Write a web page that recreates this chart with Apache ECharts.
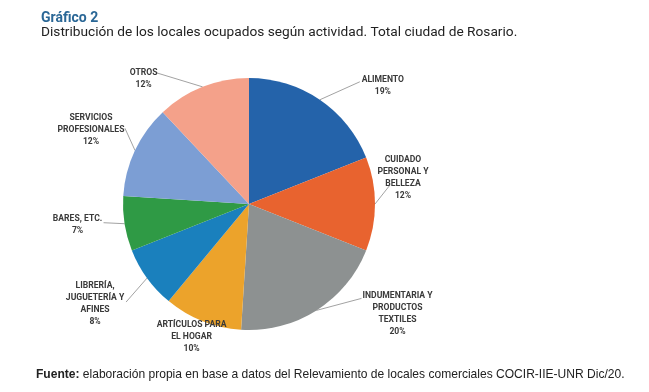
<!DOCTYPE html>
<html>
<head>
<meta charset="utf-8">
<script src="https://cdn.jsdelivr.net/npm/echarts@6/dist/echarts.min.js"></script>
<style>
html,body{margin:0;padding:0;background:#fff;}
#chart{width:649px;height:392px;}
</style>
</head>
<body>
<div id="chart"></div>
<script>
// ---- data ----
const categories = [
  'ALIMENTO',
  'CUIDADO\nPERSONAL Y\nBELLEZA',
  'INDUMENTARIA Y\nPRODUCTOS\nTEXTILES',
  'ARTÍCULOS PARA\nEL HOGAR',
  'LIBRERÍA,\nJUGUETERÍA Y\nAFINES',
  'BARES, ETC.',
  'SERVICIOS\nPROFESIONALES',
  'OTROS'
];
const values = [19, 12, 20, 10, 8, 7, 12, 12];

// ---- styles ----
const colors = ['#2463aa', '#e8632f', '#8d9191', '#eca32b', '#1a80bd', '#2f9a45', '#7c9ed4', '#f4a18a'];
// label centre offset from the slice's outer mid point
const labelOffset = [[63,-14],[28,-26],[81,3],[-11,16],[-52,26],[-47,1],[-44,-21],[-59,-8]];
// label line end offset from the slice's outer mid point (null = no line)
const lineOffset = [[40,-18],[15,-19],[45,-12],null,[-21,24],[-21,-1],[-10,-22],[-46,-14]];
const labelFont = "Roboto, sans-serif";

const chart = echarts.init(document.getElementById('chart'), null, {renderer: 'canvas'});
chart.setOption({
  animation: false,
  title: [
    {text: 'Gráfico 2', left: 41, top: 11, padding: 0,
     textStyle: {fontFamily: 'Roboto', fontSize: 14, fontWeight: 'bold', color: '#2a6796'}},
    {text: 'Distribución de los locales ocupados según actividad. Total ciudad de Rosario.', left: 41, top: 26, padding: 0,
     textStyle: {fontFamily: 'Roboto', fontSize: 13.7, fontWeight: 'normal', color: '#222'}},
    {text: '{b|Fuente:} elaboración propia en base a datos del Relevamiento de locales comerciales COCIR-IIE-UNR Dic/20.',
     left: 36, top: 369, padding: 0,
     textStyle: {fontFamily: 'Liberation Sans', fontSize: 12.05, fontWeight: 'normal', color: '#222',
       rich: {b: {fontFamily: 'Liberation Sans', fontSize: 12.05, fontWeight: 'bold', color: '#222'}}}}
  ],
  series: [{
    type: 'pie',
    center: [249, 204],
    radius: 126,
    startAngle: 90,
    clockwise: true,
    avoidLabelOverlap: false,
    itemStyle: {borderWidth: 0},
    label: {
      show: true,
      position: 'outside',
      formatter: '{b}\n{c}%',
      fontFamily: labelFont,
      fontWeight: 'bold',
      fontSize: 8.6,
      lineHeight: 12,
      color: '#3a3a3a'
    },
    labelLine: {show: true, length: 10, length2: 10, lineStyle: {color: '#8a8a8a', width: 0.8}},
    labelLayout: function (p) {
      const i = p.dataIndex;
      const e = p.labelLinePoints ? p.labelLinePoints[0] : [0, 0];
      const res = {
        x: e[0] + labelOffset[i][0],
        y: e[1] + labelOffset[i][1],
        align: 'center',
        verticalAlign: 'middle'
      };
      const lo = lineOffset[i];
      res.labelLinePoints = lo ? [[e[0], e[1]], [e[0] + lo[0], e[1] + lo[1]]] : [[e[0], e[1]], [e[0], e[1]]];
      return res;
    },
    data: categories.map((c, i) => ({name: c, value: values[i], itemStyle: {color: colors[i]}}))
  }]
});
</script>
</body>
</html>
